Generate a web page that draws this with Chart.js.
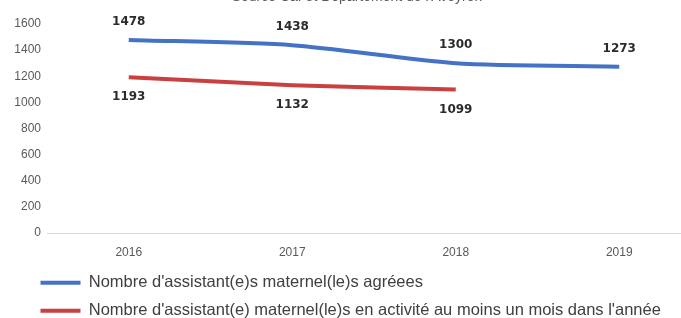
<!DOCTYPE html>
<html>
<head>
<meta charset="utf-8">
<script src="https://cdn.jsdelivr.net/npm/chart.js@4/dist/chart.umd.min.js"></script>
<style>
html, body { margin: 0; padding: 0; background: #fff; overflow: hidden; width: 681px; height: 318px; }
#wrap { width: 705px; height: 329px; }
</style>
</head>
<body>
<div id="wrap"><canvas id="graphique"></canvas></div>
<script>
const annees = ["2016", "2017", "2018", "2019"];
const agreees = [1478, 1438, 1300, 1273];
const enActivite = [1193, 1132, 1099, null];
const ticksY = [0, 200, 400, 600, 800, 1000, 1200, 1400, 1600];

const titre = "Source Caf et Département de l'Aveyron";

/* valeurs au-dessus / en-dessous des points */
const etiquettes = {
  id: "etiquettes",
  afterLayout(chart) {
    // décaler la légende vers la droite
    chart.legend.left = 29;
  },
  afterDatasetsDraw(chart) {
    const ctx = chart.ctx;
    ctx.save();
    ctx.font = "bold 12px 'DejaVu Sans'";
    ctx.fillStyle = "#2b2b2b";
    ctx.textAlign = "center";
    ctx.textBaseline = "middle";
    chart.data.datasets.forEach((ds, i) => {
      const decal = i === 0 ? -18 : 20;
      chart.getDatasetMeta(i).data.forEach((pt, j) => {
        if (ds.data[j] == null) return;
        ctx.fillText(ds.data[j], pt.x, pt.y + decal);
      });
    });
    // titre coupé en haut
    ctx.font = "14px 'Liberation Sans'";
    ctx.fillStyle = "#595959";
    ctx.fillText(titre, 357, -3);
    ctx.restore();
  }
};

new Chart(document.getElementById("graphique"), {
  type: "line",
  data: {
    labels: annees,
    datasets: [
      {
        label: "Nombre d'assistant(e)s maternel(le)s agréees",
        data: agreees,
        borderColor: "#4472C4",
        backgroundColor: "#4472C4",
        borderWidth: 4,
        pointRadius: 0,
        tension: 0.25
      },
      {
        label: "Nombre d'assistant(e) maternel(le)s en activité au moins un mois dans l'année",
        data: enActivite,
        borderColor: "#C9403F",
        backgroundColor: "#C9403F",
        borderWidth: 4,
        pointRadius: 0,
        tension: 0.25
      }
    ]
  },
  options: {
    responsive: true,
    maintainAspectRatio: false,
    animation: false,
    layout: { padding: { top: 24, left: 0, right: 4, bottom: 0 } },
    scales: {
      x: {
        offset: true,
        grid: { display: false, drawTicks: false },
        border: { display: true, color: "#d9d9d9", width: 1 },
        ticks: { color: "#595959", font: { family: "Liberation Sans", size: 12 }, padding: 12 },
        afterFit: s => { s.height = 30; }
      },
      y: {
        min: 0,
        max: 1600,
        afterBuildTicks: s => { s.ticks = ticksY.map(v => ({ value: v })); },
        grid: { display: false, drawTicks: false },
        border: { display: false },
        ticks: {
          color: "#595959",
          font: { family: "Liberation Sans", size: 12 },
          padding: 6,
          callback: v => String(v)
        },
        afterFit: s => { s.width = 47; }
      }
    },
    plugins: {
      legend: {
        position: "bottom",
        align: "start",
        labels: {
          boxWidth: 40,
          boxHeight: 4,
          padding: 11.5,
          color: "#404040",
          font: { family: "Liberation Sans", size: 16.5 },
          generateLabels: chart => chart.data.datasets.map((ds, i) => ({
            text: ds.label,
            fillStyle: ds.borderColor,
            strokeStyle: ds.borderColor,
            lineWidth: 0,
            fontColor: "#404040",
            datasetIndex: i
          }))
        }
      },
      tooltip: { enabled: false }
    }
  },
  plugins: [etiquettes]
});
</script>
</body>
</html>
